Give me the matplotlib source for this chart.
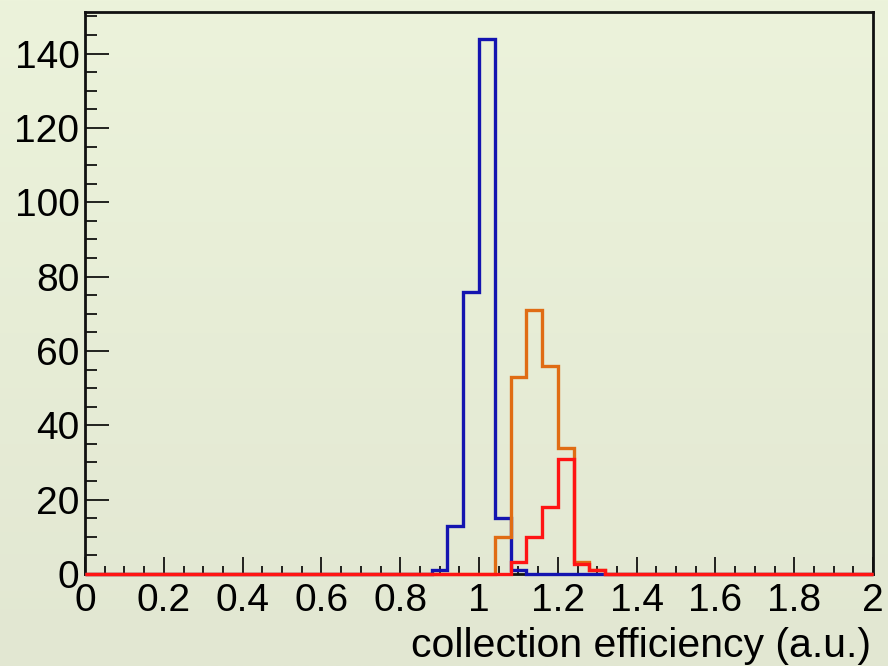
import matplotlib
matplotlib.use("Agg")
import matplotlib.pyplot as plt
from matplotlib.ticker import MultipleLocator
import numpy as np

# bin lower edges and counts (non-empty bins only), bin width 0.04 on [0, 2]
blue_lo = [0.88, 0.92, 0.96, 1.00, 1.04, 1.08]
blue_n = [1, 13, 76, 144, 15, 1]

orange_lo = [1.04, 1.08, 1.12, 1.16, 1.20, 1.24, 1.28]
orange_n = [10, 53, 71, 56, 34, 3.3, 1]

red_lo = [1.08, 1.12, 1.16, 1.20, 1.24, 1.28]
red_n = [3.3, 10, 18, 31, 2.6, 1]

nbins, xmin, xmax = 50, 0.0, 2.0
edges = np.linspace(xmin, xmax, nbins + 1)
half = (xmax - xmin) / nbins / 2


def fill(lo, n):
    h, _ = np.histogram(np.asarray(lo) + half, bins=edges, weights=n)
    return h


plt.rcParams['font.family'] = ['Liberation Sans', 'DejaVu Sans']

fig = plt.figure(figsize=(8.88, 6.66), dpi=100)

# soft vertical gradient behind everything
bg = fig.add_axes([0, 0, 1, 1], zorder=-10)
grad = np.linspace(0, 1, 256).reshape(-1, 1)
top = np.array([236, 243, 219]) / 255
bot = np.array([226, 231, 210]) / 255
img = top + (bot - top) * grad[..., None]
bg.imshow(img, aspect='auto', extent=[0, 1, 0, 1])
bg.axis('off')

ax = fig.add_axes([85 / 888, 1 - 574 / 666, 788 / 888, 562 / 666])
ax.set_facecolor('none')

# histograms drawn over the frame so the empty bins show along the baseline
for lo, n, c in [(blue_lo, blue_n, '#1414b0'),
                 (orange_lo, orange_n, '#e06c14'),
                 (red_lo, red_n, '#ff1414')]:
    ax.stairs(fill(lo, n), edges, color=c, lw=2.4, baseline=0,
              zorder=3, clip_on=False)

ax.set_xlim(xmin, xmax)
ax.set_ylim(0, 151.2)

ax.xaxis.set_major_locator(MultipleLocator(0.2))
ax.xaxis.set_minor_locator(MultipleLocator(0.05))
ax.yaxis.set_major_locator(MultipleLocator(20))
ax.yaxis.set_minor_locator(MultipleLocator(5))
ax.xaxis.set_major_formatter(lambda v, p: f"{v:g}")

ax.tick_params(axis='both', which='both', direction='in', top=False, right=False,
               width=1.2, labelsize=28, color='black')
ax.tick_params(axis='x', which='major', length=12.2, pad=6.5)
ax.tick_params(axis='x', which='minor', length=5.8)
ax.tick_params(axis='y', which='major', length=17.3, pad=4)
ax.tick_params(axis='y', which='minor', length=8.6)

for s in ax.spines.values():
    s.set_linewidth(2.0)
    s.set_color('#111111')

ax.text(0.998, -83 / 562, 'collection efficiency (a.u.)', transform=ax.transAxes,
        ha='right', va='baseline', fontsize=29.5)

fig.savefig('out.png', dpi=100)
